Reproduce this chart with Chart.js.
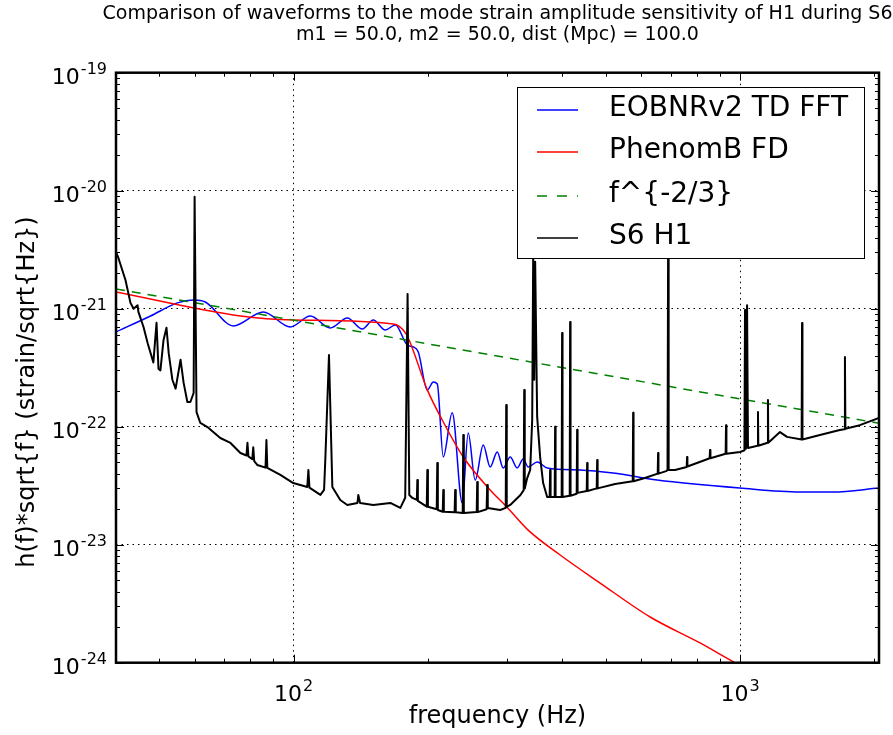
<!DOCTYPE html>
<html>
<head>
<meta charset="utf-8">
<script src="https://cdn.jsdelivr.net/npm/chart.js@4.4.1/dist/chart.umd.min.js"></script>
<style>
  html, body { margin: 0; padding: 0; background: #fff; }
  #wrap { width: 893px; height: 735px; }
</style>
</head>
<body>
<div id="wrap"><canvas id="chart" width="893" height="735"></canvas></div>
<script>
// 1. data (frequency in Hz, amplitude in strain/sqrt(Hz))
const eobFreq = [40, 47.8, 54.9, 59.6, 63.4, 73.3, 85.5, 98.3, 109, 120.8, 131.9, 142.5, 150.8, 160.4, 169,
  179.7, 185.4, 190.2, 199.3, 205.5, 209.8, 216.4, 226.6, 238.6, 246.1, 255.1, 265.9, 275.6, 285.8, 294.8,
  305.6, 316.8, 326.8, 335.3, 351.2, 369.8, 438.3, 519.6, 651.9, 1000, 1362, 1615, 2048];
const eobAmp = [6.35e-22, 8.67e-22, 1.12e-21, 1.185e-21, 1.14e-21, 7.14e-22, 9.38e-22, 7.0e-22, 8.67e-22, 6.86e-22,
  8.34e-22, 6.73e-22, 8.02e-22, 6.6e-22, 7.28e-22, 4.92e-22, 4.74e-22, 4.3e-22, 2.05e-22, 2.39e-22, 2.3e-22,
  5.54e-23, 1.31e-22, 2.26e-23, 8.84e-23, 3.53e-23, 7.0e-23, 4.55e-23, 6.1e-23, 4.47e-23, 5.54e-23, 4.47e-23,
  5.32e-23, 4.55e-23, 5.02e-23, 4.47e-23, 4.3e-23, 4.05e-23, 3.53e-23, 3.02e-23, 2.8e-23, 2.8e-23, 3.02e-23];

const phenFreq = [40, 76, 100, 167.2, 176, 180.6, 199.3, 215.2, 239.9, 275.6, 300.3, 335.3, 395.4, 486, 628.9, 813.7, 974, 1000];
const phenAmp = [1.385e-21, 8.67e-22, 8.02e-22, 7.42e-22, 6.6e-22, 5.65e-22, 2.05e-22, 1.14e-22, 5.54e-23, 2.91e-23,
  2.09e-23, 1.33e-23, 8.18e-24, 4.73e-24, 2.44e-24, 1.47e-24, 1.0e-24, 0.95e-24];

const powFreq = [40, 100, 1000, 2048];
const powAmp = [1.47e-21, 8.0e-22, 1.72e-22, 1.07e-22];

// S6 H1 noise curve: baseline plus narrow lines (10 values per row in both arrays)
const s6Freq = [
  40, 40.5, 42.0, 43.1, 43.8, 44.7, 44.9, 46.1, 47.1, 48.5,
  49.3, 49.8, 50.3, 51.1, 51.9, 52.5, 53.5, 54.4, 55.2, 55.8,
  56.7, 57.8, 58.7, 59.7, 60.0, 60.6, 61.8, 64.1, 68.5, 72.2,
  76.0, 78.4, 78.8, 79.2, 80.8, 81.2, 81.6, 82.9, 86.5, 86.9,
  87.3, 93.4, 99.8, 107.3, 107.9, 108.5, 114.8, 117.0, 117.8, 120,
  122.1, 127.2, 131.9, 139.0, 139.6, 140.9, 150.8, 164.7, 173.4, 177.8,
  180, 181.6, 184.5, 188.8, 189.3, 189.8, 198.7, 199.3, 199.9, 209.2,
  209.8, 210.4, 215.8, 216.4, 217.0, 229.4, 230.1, 230.8, 239.2, 239.9,
  240.6, 257.1, 257.8, 258.5, 270.6, 271.4, 272.2, 290.2, 298.6, 299.4,
  300.2, 305.6, 322.2, 327.6, 328.5, 329.4, 333.6, 338.8, 342.3, 344.1,
  345.9, 347.6, 351.2, 356.7, 362.2, 369.8, 374.6, 375.5, 376.4, 384.4,
  385.3, 386.2, 398.5, 399.4, 400.3, 415.4, 416.3, 417.2, 430.6, 431.6,
  432.6, 453.5, 454.5, 455.5, 477.5, 478.6, 479.7, 525, 575, 576.2,
  577.4, 612, 654, 655.3, 656.6, 683, 688, 690, 692, 715,
  759.5, 760.9, 762.3, 835, 855, 856.7, 858.4, 928.5, 930.4, 932.3,
  1000, 1023, 1026, 1031, 1037, 1042, 1095, 1097, 1099, 1153,
  1155, 1157, 1229, 1274, 1374, 1377, 1380, 1510, 1673, 1714,
  1718, 1722, 1855, 2048];
const s6Amp = [
  3.02e-21, 2.69e-21, 1.75e-21, 1.12e-21, 1.0e-21, 1.07e-21, 9.4e-22, 7.0e-22, 5.1e-22, 3.5e-22,
  7.6e-22, 3.1e-22, 3.0e-22, 5.4e-22, 6.9e-22, 4.2e-22, 2.5e-22, 2.1e-22, 2.9e-22, 3.7e-22,
  2.35e-22, 1.62e-22, 1.62e-22, 1.93e-22, 8.9e-21, 1.33e-22, 1.075e-22, 9.94e-23, 8.02e-23, 7.28e-23,
  5.98e-23, 5.7e-23, 7.3e-23, 5.6e-23, 5.3e-23, 6.7e-23, 5.1e-23, 4.74e-23, 4.5e-23, 7.7e-23,
  4.47e-23, 3.9e-23, 3.33e-23, 3.08e-23, 4.3e-23, 3.05e-23, 2.64e-23, 2.91e-23, 5.5e-23, 4.05e-22,
  3.08e-23, 2.39e-23, 2.17e-23, 2.26e-23, 2.64e-23, 2.26e-23, 2.17e-23, 2.26e-23, 2.05e-23, 2.5e-23,
  1.33e-21, 2.64e-23, 2.49e-23, 2.4e-23, 3.53e-23, 2.35e-23, 2.1e-23, 4.3e-23, 2.1e-23, 2.0e-23,
  4.92e-23, 1.97e-23, 1.9e-23, 2.91e-23, 1.9e-23, 1.88e-23, 2.91e-23, 1.88e-23, 1.86e-23, 8.5e-23,
  1.86e-23, 1.89e-23, 3.4e-23, 1.89e-23, 2.0e-23, 3.2e-23, 2.05e-23, 1.97e-23, 2.05e-23, 1.53e-22,
  2.09e-23, 2.17e-23, 2.64e-23, 2.9e-23, 2.05e-22, 3.0e-23, 3.67e-23, 4.3e-23, 1.14e-22, 3.0e-21,
  2.5e-22, 2.5e-21, 1.21e-22, 5.5e-23, 3.33e-23, 2.54e-23, 2.54e-23, 4.3e-23, 2.54e-23, 2.54e-23,
  1.0e-22, 2.54e-23, 2.54e-23, 6.22e-22, 2.54e-23, 2.6e-23, 7.71e-22, 2.6e-23, 2.7e-23, 9.4e-23,
  2.75e-23, 2.85e-23, 4.92e-23, 2.85e-23, 3.0e-23, 5.22e-23, 3.0e-23, 3.27e-23, 3.45e-23, 1.31e-22,
  3.45e-23, 3.67e-23, 4.0e-23, 5.98e-23, 4.0e-23, 4.2e-23, 4.3e-23, 3.0e-21, 4.3e-23, 4.3e-23,
  4.55e-23, 5.54e-23, 4.6e-23, 5.22e-23, 5.4e-23, 6.35e-23, 5.4e-23, 5.9e-23, 1.03e-22, 5.9e-23,
  6.1e-23, 6.3e-23, 9.75e-22, 6.5e-23, 1.07e-21, 6.6e-23, 6.9e-23, 1.33e-22, 6.9e-23, 7.3e-23,
  1.68e-22, 7.3e-23, 9.0e-23, 8.2e-23, 7.8e-23, 7.56e-22, 7.8e-23, 8.5e-23, 9.38e-23, 9.5e-23,
  3.9e-22, 9.6e-23, 1.03e-22, 1.185e-22];

const seriesLabels = ['EOBNRv2 TD FFT', 'PhenomB FD', 'f^{-2/3}', 'S6 H1'];
const seriesColors = ['#0000ff', '#ff0000', '#008000', '#000000'];

// axis ranges and decade ticks
const xMin = 40, xMax = 2048;
const yMin = 1e-24, yMax = 1e-19;
const xDecades = [1, 2, 3];
const yDecades = [-24, -23, -22, -21, -20, -19];

const titleLines = ['Comparison of waveforms to the mode strain amplitude sensitivity of H1 during S6',
  'm1 = 50.0, m2 = 50.0, dist (Mpc) = 100.0'];
const xTitle = 'frequency (Hz)';
const yTitle = 'h(f)*sqrt{f} (strain/sqrt{Hz})';

const FONT = '"DejaVu Sans", "Bitstream Vera Sans", sans-serif';

// 2. helpers
function pts(fs, vs) { return fs.map((f, i) => ({ x: f, y: vs[i] })); }

function decadeTicks(decades, lo, hi) {
  const out = [];
  decades.forEach(e => {
    for (let m = 1; m <= 9; m++) {
      const v = m * Math.pow(10, e);
      if (v >= lo * 0.999999 && v <= hi * 1.000001) out.push({ value: v, major: m === 1, exp: e });
    }
  });
  return out;
}

function powLabel(ctx, exp, x, y, align) {
  const base = '10', sup = String(exp);
  ctx.font = '22px ' + FONT;
  const wb = ctx.measureText(base).width;
  ctx.font = '16px ' + FONT;
  const ws = ctx.measureText(sup).width;
  const left = align === 'right' ? x - wb - ws - 1 : x - (wb + ws + 1) / 2;
  ctx.textAlign = 'left';
  ctx.textBaseline = 'alphabetic';
  ctx.font = '22px ' + FONT;
  ctx.fillText(base, left, y);
  ctx.font = '16px ' + FONT;
  ctx.fillText(sup, left + wb + 1, y - 10);
}

// 3. frame, inward ticks, labels and legend (matplotlib look)
const decorPlugin = {
  id: 'decor',
  afterDatasetsDraw(chart) {
    const { ctx, chartArea: a, scales: { x, y } } = chart;
    ctx.save();

    // legend box
    const lx = 517, ly = 87, lw = 347, lh = 171;
    ctx.fillStyle = '#fff';
    ctx.fillRect(lx, ly, lw, lh);
    ctx.lineWidth = 1;
    ctx.strokeStyle = '#000';
    ctx.strokeRect(lx + 0.5, ly + 0.5, lw, lh);
    const rowY = [110, 152, 196, 238];
    seriesLabels.forEach((lab, i) => {
      ctx.beginPath();
      ctx.strokeStyle = seriesColors[i];
      ctx.lineWidth = 1.5;
      ctx.setLineDash(i === 2 ? [10, 10] : []);
      ctx.moveTo(537, rowY[i]);
      ctx.lineTo(578, rowY[i]);
      ctx.stroke();
      ctx.setLineDash([]);
      ctx.fillStyle = '#000';
      ctx.font = '28px ' + FONT;
      ctx.textAlign = 'left';
      ctx.textBaseline = 'middle';
      ctx.fillText(lab, 609, rowY[i] - 1);
    });

    // inward tick marks on all four sides
    ctx.strokeStyle = '#000';
    ctx.lineWidth = 1;
    ctx.beginPath();
    x.ticks.forEach(t => {
      const px = Math.round(x.getPixelForValue(t.value)) + 0.5;
      const len = t.major ? 8 : 4;
      ctx.moveTo(px, a.bottom); ctx.lineTo(px, a.bottom - len);
      ctx.moveTo(px, a.top); ctx.lineTo(px, a.top + len);
    });
    y.ticks.forEach(t => {
      const py = Math.round(y.getPixelForValue(t.value)) + 0.5;
      const len = t.major ? 8 : 4;
      ctx.moveTo(a.left, py); ctx.lineTo(a.left + len, py);
      ctx.moveTo(a.right, py); ctx.lineTo(a.right - len, py);
    });
    ctx.stroke();

    // axes frame
    ctx.lineWidth = 2.5;
    ctx.strokeRect(a.left, a.top, a.right - a.left, a.bottom - a.top);

    // tick labels
    ctx.fillStyle = '#000';
    x.ticks.filter(t => t.major).forEach(t => {
      powLabel(ctx, t.exp, x.getPixelForValue(t.value), a.bottom + 38, 'center');
    });
    y.ticks.filter(t => t.major).forEach(t => {
      powLabel(ctx, t.exp, a.left - 9, y.getPixelForValue(t.value) + 11, 'right');
    });

    // axis titles
    ctx.font = '24px ' + FONT;
    ctx.textAlign = 'center';
    ctx.textBaseline = 'middle';
    ctx.fillText(xTitle, (a.left + a.right) / 2, 717);
    ctx.save();
    ctx.translate(28, 392);
    ctx.rotate(-Math.PI / 2);
    ctx.fillText(yTitle, 0, 0);
    ctx.restore();

    // chart title
    ctx.font = '19px ' + FONT;
    ctx.fillText(titleLines[0], (a.left + a.right) / 2, 14);
    ctx.fillText(titleLines[1], (a.left + a.right) / 2, 35);
    ctx.restore();
  }
};

// 4. chart
const gridColor = c => (c.tick && c.tick.major ? '#000' : 'rgba(0,0,0,0)');

new Chart(document.getElementById('chart'), {
  type: 'line',
  data: {
    datasets: [
      { label: seriesLabels[0], data: pts(eobFreq, eobAmp), borderColor: seriesColors[0], borderWidth: 1.5,
        cubicInterpolationMode: 'monotone', order: 3 },
      { label: seriesLabels[1], data: pts(phenFreq, phenAmp), borderColor: seriesColors[1], borderWidth: 1.5,
        cubicInterpolationMode: 'monotone', order: 2 },
      { label: seriesLabels[2], data: pts(powFreq, powAmp), borderColor: seriesColors[2], borderWidth: 1.5,
        borderDash: [9, 7], order: 1 },
      { label: seriesLabels[3], data: pts(s6Freq, s6Amp), borderColor: seriesColors[3], borderWidth: 2,
        borderJoinStyle: 'round', order: 0 }
    ]
  },
  options: {
    responsive: false,
    animation: false,
    devicePixelRatio: 1,
    layout: { padding: { left: 116, right: 14, top: 72.7, bottom: 72.3 } },
    elements: { point: { radius: 0, hoverRadius: 0 }, line: { tension: 0 } },
    plugins: { legend: { display: false }, tooltip: { enabled: false }, title: { display: false } },
    scales: {
      x: {
        type: 'logarithmic', min: xMin, max: xMax,
        afterBuildTicks: s => { s.ticks = decadeTicks(xDecades, xMin, xMax); },
        afterFit: s => { s.height = 0; },
        ticks: { display: false, autoSkip: false },
        grid: { color: gridColor, lineWidth: 1, drawTicks: false },
        border: { display: false, dash: [1.5, 4] }
      },
      y: {
        type: 'logarithmic', min: yMin, max: yMax,
        afterBuildTicks: s => { s.ticks = decadeTicks(yDecades, yMin, yMax); },
        afterFit: s => { s.width = 0; },
        ticks: { display: false, autoSkip: false },
        grid: { color: gridColor, lineWidth: 1, drawTicks: false },
        border: { display: false, dash: [1.5, 4] }
      }
    }
  },
  plugins: [decorPlugin]
});
</script>
</body>
</html>
